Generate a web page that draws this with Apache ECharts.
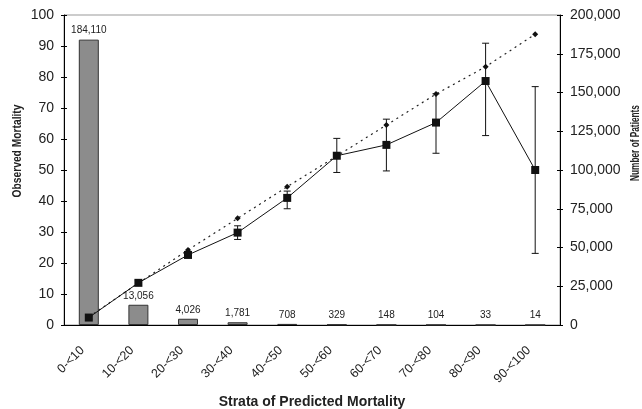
<!DOCTYPE html>
<html><head><meta charset="utf-8">
<script src="https://cdn.jsdelivr.net/npm/echarts@6/dist/echarts.min.js"></script>
<style>html,body{margin:0;padding:0;background:#fff}#c{width:642px;height:409px}</style>
</head><body><div id="c"></div>
<script>
var categories = ['0-<10','10-<20','20-<30','30-<40','40-<50','50-<60','60-<70','70-<80','80-<90','90-<100'];
var patients = [184110, 13056, 4026, 1781, 708, 329, 148, 104, 33, 14];
var observed = [2.4, 13.6, 22.6, 29.8, 41.0, 54.6, 58.1, 65.3, 78.7, 50.0];
var obsLow  = [1.9, 12.9, 21.8, 27.6, 37.5, 49.2, 49.7, 55.4, 61.1, 23.1];
var obsHigh = [2.9, 14.3, 23.4, 32.0, 43.2, 60.2, 66.4, 74.6, 90.9, 76.9];
var expected = [2.6, 13.5, 24.2, 34.4, 44.6, 54.5, 64.5, 74.5, 83.3, 93.8];

var font = 'Liberation Sans, Arial, sans-serif';
var chart = echarts.init(document.getElementById('c'));
var errData = categories.map(function(c,i){return [i, obsLow[i], obsHigh[i]];});
chart.setOption({
  animation:false,
  textStyle:{fontFamily:font},
  grid:{left:64,right:82,top:15,bottom:84,show:true,borderColor:'#999',borderWidth:1,
        containLabel:false,outerBoundsMode:'none'},
  graphic:[{
    type:'text',x:17,y:151,rotation:Math.PI/2,scaleX:0.76,
    style:{text:'Observed Mortality',fontSize:13.5,fontWeight:'bold',fontFamily:font,fill:'#222',
      textAlign:'center',textVerticalAlign:'middle',align:'center',verticalAlign:'middle'}
  },{
    type:'text',x:636,y:143,rotation:Math.PI/2,scaleX:0.69,
    style:{text:'Number of Patients',fontSize:12,fontWeight:'bold',fontFamily:font,fill:'#222',
      textAlign:'center',textVerticalAlign:'middle',align:'center',verticalAlign:'middle'}
  }],
  xAxis:[{
    type:'category',data:categories,position:'bottom',
    name:'Strata of Predicted Mortality',nameLocation:'middle',nameGap:70,
    nameTextStyle:{fontWeight:'bold',fontSize:14,color:'#222',fontFamily:font},
    axisLine:{lineStyle:{color:'#000',width:1}},
    axisTick:{length:3,lineStyle:{color:'#000'}},
    axisLabel:{rotate:45,fontSize:12.5,color:'#222',margin:17,interval:0,padding:[0,9,0,0]}
  },{
    type:'category',data:categories,position:'bottom',
    axisLine:{show:false},axisTick:{inside:true,length:3,lineStyle:{color:'#000'}},axisLabel:{show:false}
  }],
  yAxis:[{
    type:'value',min:0,max:100,interval:10,position:'left',
    axisLine:{show:true,lineStyle:{color:'#000'}},
    axisTick:{show:true,length:3,lineStyle:{color:'#000'}},
    axisLabel:{fontSize:14,color:'#222',margin:10},
    splitLine:{show:false}
  },{
    type:'value',min:0,max:200000,interval:25000,position:'right',
    axisLine:{show:true,lineStyle:{color:'#000'}},
    axisTick:{show:true,length:3,lineStyle:{color:'#000'}},
    axisLabel:{fontSize:14,color:'#222',margin:10,formatter:function(v){return v.toLocaleString('en-US');}},
    splitLine:{show:false}
  },{
    type:'value',min:0,max:100,interval:10,position:'left',
    axisLine:{show:false},axisTick:{show:true,inside:true,length:3,lineStyle:{color:'#000'}},
    axisLabel:{show:false},splitLine:{show:false}
  },{
    type:'value',min:0,max:200000,interval:25000,position:'right',
    axisLine:{show:false},axisTick:{show:true,inside:true,length:3,lineStyle:{color:'#000'}},
    axisLabel:{show:false},splitLine:{show:false}
  }],
  series:[{
    type:'bar',data:patients,yAxisIndex:1,barWidth:20,
    itemStyle:{color:'#8c8c8c',borderColor:'#333',borderWidth:1},
    label:{show:true,position:'top',distance:4,fontSize:10,color:'#222',
      formatter:function(p){return p.value.toLocaleString('en-US');}},
    z:1
  },{
    type:'line',data:expected,yAxisIndex:0,symbol:'diamond',symbolSize:6,
    lineStyle:{color:'#222',width:1.2,type:[2,4]},itemStyle:{color:'#111'},z:3
  },{
    type:'custom',yAxisIndex:0,data:errData,z:4,
    renderItem:function(params,api){
      var x=api.value(0);
      var lo=api.coord([x,api.value(1)]);
      var hi=api.coord([x,api.value(2)]);
      var w=3.5;
      var st={stroke:'#111',lineWidth:1};
      return {type:'group',children:[
        {type:'line',shape:{x1:lo[0],y1:lo[1],x2:hi[0],y2:hi[1]},style:st},
        {type:'line',shape:{x1:lo[0]-w,y1:lo[1],x2:lo[0]+w,y2:lo[1]},style:st},
        {type:'line',shape:{x1:hi[0]-w,y1:hi[1],x2:hi[0]+w,y2:hi[1]},style:st}
      ]};
    }
  },{
    type:'line',data:observed,yAxisIndex:0,symbol:'rect',symbolSize:8,
    lineStyle:{color:'#111',width:1},itemStyle:{color:'#111'},z:5
  }]
});
</script></body></html>
